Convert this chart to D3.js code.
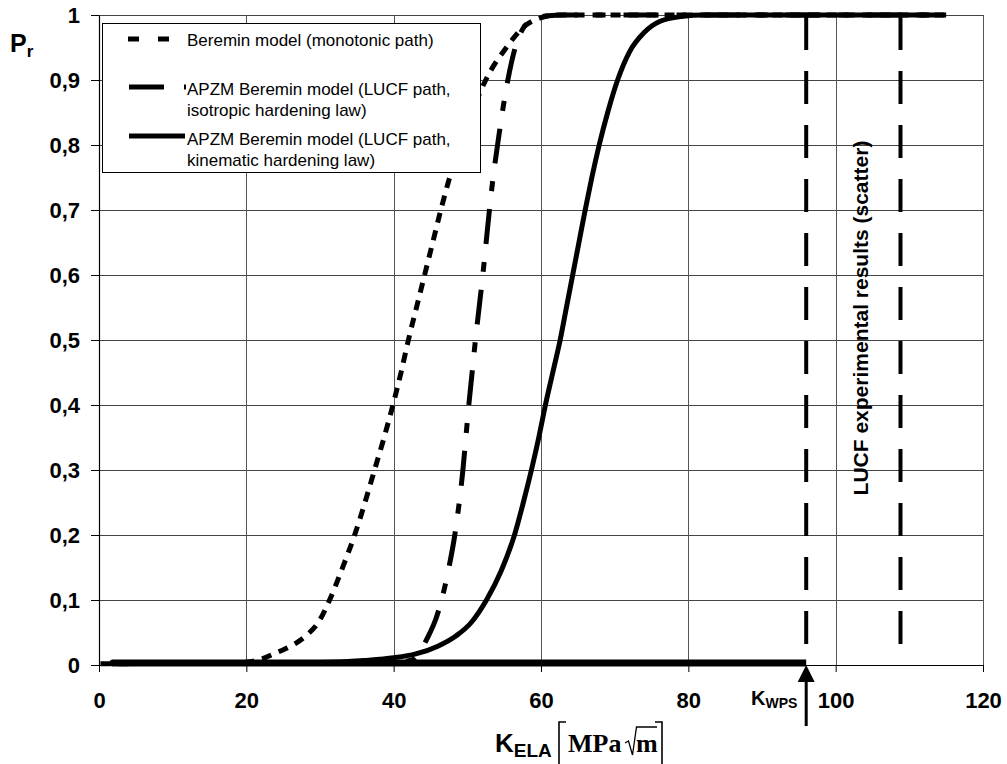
<!DOCTYPE html>
<html>
<head>
<meta charset="utf-8">
<script src="https://cdn.jsdelivr.net/npm/d3@7"></script>
<style>
  body { margin: 0; background: #fff; }
  svg { display: block; }
</style>
</head>
<body>
<svg id="chart" width="1007" height="764" font-family="Liberation Sans, Arial, sans-serif"></svg>
<script>
// values, [K_ELA, Pr]
const monotonic = [[0.2,0.002],[18,0.003],[20.5,0.005],[22,0.009],[23.7,0.017],[25.3,0.025],[26.8,0.034],[28.3,0.047],[29.8,0.066],[31.3,0.1],[33,0.148],[34.7,0.2],[36.1,0.25],[37.4,0.3],[38.7,0.35],[39.9,0.4],[41,0.45],[42,0.5],[43.1,0.55],[44.2,0.6],[45.3,0.65],[46.4,0.7],[47.6,0.75],[49,0.8],[50.6,0.85],[52.5,0.9],[55.3,0.95],[58,0.985],[59.8,0.995],[62,1],[115,1]]
const isotropic = [[1.5,0.003],[40,0.004],[42.5,0.008],[43.6,0.022],[44.9,0.049],[45.7,0.07],[46.5,0.1],[47.5,0.15],[48.3,0.2],[48.9,0.25],[49.4,0.3],[49.8,0.35],[50.2,0.4],[50.65,0.45],[51.1,0.5],[51.6,0.55],[52.1,0.6],[52.55,0.65],[53,0.7],[53.5,0.75],[54.1,0.8],[54.75,0.85],[55.5,0.9],[56.5,0.95],[57.6,0.98],[59,0.993],[61,0.999],[63,1],[115,1]]
const kinematic = [[1.5,0.003],[30,0.004],[36,0.007],[40,0.011],[43,0.017],[46,0.029],[48.5,0.045],[50.5,0.065],[52.6,0.1],[54.6,0.145],[56.4,0.2],[57.6,0.25],[58.7,0.3],[59.7,0.35],[60.6,0.4],[61.6,0.45],[62.6,0.5],[63.45,0.55],[64.3,0.6],[65.15,0.65],[66,0.7],[66.9,0.75],[67.9,0.8],[69.05,0.85],[70.4,0.9],[72,0.943],[74,0.973],[76.1,0.99],[79.3,0.998],[82,1],[115,1]]
const wpsBase = [[1.7,0.003],[96,0.003]]
const kWPS = 96
const scatterK = [96, 108.8]
const xTicks = [0, 20, 40, 60, 80, 100, 120]
const yTicks = [0, 0.1, 0.2, 0.3, 0.4, 0.5, 0.6, 0.7, 0.8, 0.9, 1]
const legendLabels = [["Beremin model (monotonic path)"],
  ["APZM Beremin model (LUCF path,", "isotropic hardening law)"],
  ["APZM Beremin model (LUCF path,", "kinematic hardening law)"]]

const svg = d3.select("#chart")
const L = 99, R = 983, T = 15, B = 665
const serif = "Liberation Serif, Times New Roman, serif"

const x = d3.scaleLinear().domain([0, 120]).range([L, R])
const y = d3.scaleLinear().domain([0, 1]).range([B, T])

//grid
svg.append("g").selectAll("line").data(yTicks).enter().append("line")
  .attr("x1", L).attr("x2", R).attr("y1", d=>Math.round(y(d))+0.5).attr("y2", d=>Math.round(y(d))+0.5)
  .attr("stroke", "#444").attr("stroke-width", 1)
svg.append("g").selectAll("line").data(xTicks).enter().append("line")
  .attr("y1", T).attr("y2", B).attr("x1", d=>Math.round(x(d))+0.5).attr("x2", d=>Math.round(x(d))+0.5)
  .attr("stroke", "#555").attr("stroke-width", 1)

//axes
const fmt = d => d === 0 || d === 1 ? String(d) : d3.format(".1f")(d).replace(".", ",")
const yAxis = svg.append("g").attr("transform", `translate(${L},0)`)
  .call(d3.axisLeft(y).tickValues(yTicks).tickFormat(fmt).tickSize(8).tickSizeOuter(0).tickPadding(11))
const xAxis = svg.append("g").attr("transform", `translate(0,${B})`)
  .call(d3.axisBottom(x).tickValues(xTicks).tickSize(7).tickSizeOuter(0).tickPadding(20))
;[yAxis, xAxis].forEach(a => {
  a.attr("font-family", null).attr("font-size", null)
  a.selectAll("text").attr("font-size", 22).attr("font-weight", "bold").attr("fill", "#000")
  a.selectAll("line").attr("stroke", "#000")
  a.select(".domain").attr("stroke", "#000").attr("stroke-width", 1.2)
})

//curves
const line = d3.line().x(d=>x(d[0])).y(d=>y(d[1])).curve(d3.curveMonotoneX)
const addCurve = (data, dash, w) => svg.append("path").datum(data).attr("d", line)
  .attr("fill", "none").attr("stroke", "#000").attr("stroke-width", w)
  .attr("stroke-dasharray", dash).attr("stroke-linejoin", "round")
addCurve(wpsBase, null, 7)
addCurve(kinematic, null, 5)
addCurve(isotropic, "35,18,10,18", 5)
addCurve(monotonic, "10,8", 5)

//experimental scatter bounds
svg.append("g").selectAll("line").data(scatterK).enter().append("line")
  .attr("x1", d=>x(d)).attr("x2", d=>x(d)).attr("y1", y(1) + 2).attr("y2", y(0))
  .attr("stroke", "#000").attr("stroke-width", 4).attr("stroke-dasharray", "33,21")
svg.append("text").attr("transform", `translate(868,318) rotate(-90)`)
  .attr("text-anchor", "middle").attr("font-size", 21).attr("font-weight", "bold")
  .text("LUCF experimental results (scatter)")

//K_WPS arrow
const xa = x(kWPS)
svg.append("line").attr("x1", xa).attr("x2", xa).attr("y1", 726).attr("y2", 678)
  .attr("stroke", "#000").attr("stroke-width", 3)
svg.append("path").attr("d", `M${xa},${B} L${xa-8.5},${B+17} L${xa+8.5},${B+17} Z`).attr("fill", "#000")
const kw = svg.append("text").attr("x", 751).attr("y", 705).attr("font-weight", "bold")
kw.append("tspan").attr("font-size", 20).text("K")
kw.append("tspan").attr("font-size", 14).attr("dy", 3).text("WPS")

//legend
const lg = svg.append("g")
lg.append("rect").attr("x", 102.5).attr("y", 23.5).attr("width", 378).attr("height", 149)
  .attr("fill", "#fff").attr("stroke", "#000").attr("stroke-width", 1)
const sampleY = [39, 87, 136]
const sampleDash = ["11,19", "35,20,10,20", null]
const sampleEnd = [169, 186, 185]
sampleY.forEach((sy, i) => {
  lg.append("line").attr("x1", i === 0 ? 128 : 129).attr("x2", sampleEnd[i]).attr("y1", sy).attr("y2", sy)
    .attr("stroke", "#000").attr("stroke-width", 5).attr("stroke-dasharray", sampleDash[i])
})
const textY = [[46], [95, 116], [145, 166]]
legendLabels.forEach((lines, i) => {
  lines.forEach((t, j) => {
    lg.append("text").attr("x", 187).attr("y", textY[i][j]).attr("font-size", 17).text(t)
  })
})

//axis titles
const pr = svg.append("text").attr("x", 10).attr("y", 52).attr("font-weight", "bold")
pr.append("tspan").attr("font-size", 25).text("P")
pr.append("tspan").attr("font-size", 17).attr("dy", 5).text("r")

const kx = svg.append("text").attr("x", 495).attr("y", 752).attr("font-weight", "bold")
kx.append("tspan").attr("font-size", 26).text("K")
kx.append("tspan").attr("font-size", 19).attr("dy", 5).text("ELA")
svg.append("path").attr("d", "M566,722 H559 V767 H566").attr("fill", "none").attr("stroke", "#000").attr("stroke-width", 1.6)
svg.append("path").attr("d", "M655,722 H662 V767 H655").attr("fill", "none").attr("stroke", "#000").attr("stroke-width", 1.6)
svg.append("text").attr("x", 568).attr("y", 752).attr("font-size", 26).attr("font-weight", "bold")
  .attr("font-family", serif).text("MPa")
svg.append("path").attr("d", "M625,743 L628.5,741 L632.5,755 L636.5,727 H657")
  .attr("fill", "none").attr("stroke", "#000").attr("stroke-width", 1.3)
svg.append("text").attr("x", 636).attr("y", 752).attr("font-size", 26).attr("font-weight", "bold")
  .attr("font-family", serif).text("m")
</script>
</body>
</html>
